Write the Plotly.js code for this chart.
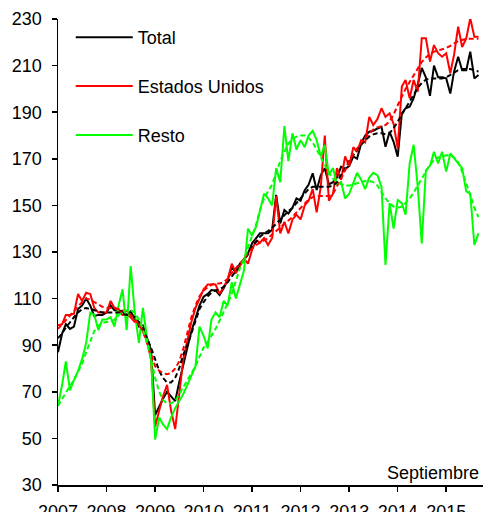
<!DOCTYPE html>
<html>
<head>
<meta charset="utf-8">
<script src="https://cdn.plot.ly/plotly-3.0.1.min.js"></script>
<style>html,body{margin:0;padding:0;background:#fff;}#chart{width:483px;height:512px;}</style>
</head>
<body>
<div id="chart"></div>
<script>
// Monthly index, January 2007 – September 2015
const startYear = 2007;
const seriesNames = ["Total", "Estados Unidos", "Resto"];

const total = [
  87, 95, 99, 97, 98, 105.5, 107, 110, 107, 102.5, 103, 103,
  104, 107, 105, 105, 104.5, 103, 104.5, 101, 98, 98.5, 93, 88,
  60, 64, 67, 70, 68, 66, 74, 82, 89, 96, 102, 107,
  110.8, 112, 113.7, 113.5, 111.5, 114.4, 118, 123.7, 121, 125, 126.6, 129.4,
  133.7, 136, 138, 138, 138, 139.5, 154.5, 142.3, 148, 146.5, 149, 153,
  152, 156.5, 158.8, 163.8, 156.6, 163, 166, 159, 160, 162, 166.6, 165.5,
  167, 171, 170, 176.6, 180, 181.6, 182, 183, 183.7, 175.2, 181.6, 177.3,
  170.9, 189.5, 191.7, 192.4, 196, 202, 209, 205, 197, 210, 205, 205,
  204.5, 198, 207.4, 213.8, 208, 208, 216, 204.5, 206
];
const estadosUnidos = [
  98.6, 99, 103, 103, 103.5, 112, 109, 112.5, 112, 106, 104, 104,
  104, 109, 106, 105, 103, 103, 102, 100, 99, 96, 92, 84,
  55, 62, 68, 73, 62, 54, 70, 84, 92, 100, 106, 110,
  114, 116, 116, 116, 112, 115, 118, 125, 121, 124, 127, 125,
  131, 135, 134, 136, 133, 136, 154, 138, 143, 138, 144, 146,
  144, 150, 152, 157, 147, 158, 180, 152, 155, 166, 161, 171,
  167, 175, 173, 178, 177, 188, 184.5, 187, 191.7, 188, 189.5, 185,
  174.5, 201, 203.8, 196, 203.8, 198.8, 221.7, 221.7, 211.7, 218.8, 215.3, 213.8,
  215.3, 206.7, 214.6, 226.7, 218, 221.7, 230.3, 222.4, 222.4
];
const resto = [
  64, 73, 83, 70.6, 75, 79, 84, 91, 104, 103, 96.5, 101,
  101, 102, 98, 107, 114, 96.5, 124, 104, 91, 106, 93, 85,
  49.5, 59, 56, 54, 59, 63, 66, 69, 73, 77, 81, 98,
  94, 88.6, 101, 104, 102, 109, 107, 117, 110, 116, 122, 140,
  137, 141, 148, 155, 153, 150, 166, 160, 184, 169, 181, 174,
  178, 175, 180, 182, 178, 171, 176, 163, 166, 159, 160, 153,
  155, 160, 164, 161, 157, 162, 164, 163, 158, 124.4, 151, 140,
  152.3, 151, 146, 168, 176, 158, 133.7, 165, 167, 173, 168, 173,
  164.5, 172.3, 170, 168, 166, 156, 155, 133, 138
];
// Trend (dashed) series
const totalTrend = [
  93, 95, 97.5, 100, 102, 104, 105.5, 106, 105.5, 105, 104.5, 104,
  104, 104, 104, 104, 103.5, 103, 103, 102, 100, 97, 93, 89,
  84, 79, 76, 74, 74, 76, 80, 86, 90, 95, 101, 105.5,
  108.5, 111, 112.5, 113.5, 114, 115, 117, 119.5, 122, 124, 126.5, 129,
  132, 134.5, 136.5, 138, 139, 140.5, 142, 144, 146, 147.5, 149, 151,
  153, 155, 157, 158, 158, 158, 158, 158, 158.5, 160, 163, 166,
  169, 171.5, 174, 176, 178, 179.5, 180.5, 181, 181, 180.5, 181, 183,
  186, 189, 192, 195, 198, 200.5, 202.5, 204, 204.5, 204.5, 204.5, 204.5,
  205, 206, 207, 208, 208.5, 208.5, 208.5, 208, 207.5
];
const estadosUnidosTrend = [
  97, 99, 101, 103, 104.5, 106.5, 108.5, 110, 109.5, 108.5, 107.5, 106.5,
  106, 106, 106, 105.5, 105, 104.5, 103, 101, 99, 96, 91, 86,
  81, 79, 78, 77.5, 78, 80, 83, 88.5, 95, 102, 107, 111,
  113.5, 115, 116, 116.5, 116.5, 117, 118.5, 121, 123, 125, 127, 129.5,
  131.5, 133, 134, 135, 136, 137.5, 139, 140.5, 142, 143.5, 145, 147,
  149, 151, 152.5, 153.5, 154, 154, 154, 154, 155, 158, 161.5, 165,
  169, 172, 174.5, 177, 179, 181, 182.5, 183.5, 184, 184.5, 186, 189,
  193, 197, 200, 203, 206, 209, 211.5, 213.5, 215, 216, 216.5, 217,
  217.5, 218.5, 219.5, 220.5, 221, 221.5, 221.5, 221.5, 221.5
];
const restoTrend = [
  64, 67, 70, 72.5, 75, 78.5, 82, 87, 92, 96, 98.5, 99.5,
  100, 100, 101, 103, 104.5, 105, 105, 104, 101, 97, 91, 84,
  76, 70, 66.5, 65, 65, 66, 69, 72, 75, 78, 81, 85,
  89, 91.5, 94, 97, 100.5, 104, 108, 112, 117.5, 123, 127, 132,
  137, 142, 148, 153, 156, 159, 164, 169, 173, 176.5, 178.5, 179.5,
  180, 180, 179, 177, 174, 170.5, 167, 164, 161.5, 160, 159, 158.5,
  158.5, 159, 159.5, 160, 160.5, 160.5, 160, 158.5, 155.5, 153, 151, 149.5,
  149, 149.5, 151, 153, 155.5, 158.5, 162, 165, 167.5, 169.5, 170.5, 171,
  171.5, 171.5, 170.5, 168.5, 164.5, 159.5, 154, 149, 145
];

const colors = ["#000000", "#ff0000", "#00ff00"];

// month dates for the x axis
const months = [];
for (let i = 0; i < total.length; i++) {
  const y = startYear + Math.floor(i / 12);
  const m = (i % 12) + 1;
  months.push(y + "-" + String(m).padStart(2, "0") + "-01");
}

const solid = [total, estadosUnidos, resto];
const trend = [totalTrend, estadosUnidosTrend, restoTrend];

const traces = [];
solid.forEach((vals, k) => {
  traces.push({
    type: "scatter", mode: "lines", x: months, y: vals,
    name: seriesNames[k], legendgroup: "g" + k,
    line: { color: colors[k], width: 2 }
  });
});
trend.forEach((vals, k) => {
  traces.push({
    type: "scatter", mode: "lines", x: months, y: vals,
    name: seriesNames[k] + " (tendencia)", showlegend: false, legendgroup: "g" + k,
    line: { color: colors[k], width: 2, dash: "5px,3px" }
  });
});

const font = { family: "Liberation Sans, Arial, sans-serif", size: 18, color: "#000" };

const layout = {
  width: 483, height: 512,
  margin: { l: 58, r: 0, t: 19, b: 27, pad: 0 },
  paper_bgcolor: "#fff", plot_bgcolor: "#fff",
  font: font,
  showlegend: true,
  legend: {
    x: 0.03, xanchor: "left", y: 1.0, yanchor: "top",
    font: font, tracegroupgap: 22.5, itemwidth: 57,
    traceorder: "grouped", bgcolor: "rgba(0,0,0,0)", borderwidth: 0
  },
  xaxis: {
    type: "date", range: ["2007-01-01", "2015-10-05"],
    showgrid: false, zeroline: false, showline: true,
    linecolor: "#000", linewidth: 1.5,
    ticks: "outside", ticklen: 5, tickwidth: 1.5, tickcolor: "#000",
    tick0: "2007-01-01", dtick: "M12", tickformat: "%Y",
    tickfont: font, ticklabelstandoff: 5, fixedrange: true
  },
  yaxis: {
    range: [30, 230], tick0: 30, dtick: 20,
    showgrid: false, zeroline: false, showline: true,
    linecolor: "#000", linewidth: 1.5,
    ticks: "outside", ticklen: 5, tickwidth: 1.5, tickcolor: "#000",
    tickfont: font, ticklabelstandoff: 6, fixedrange: true
  },
  annotations: [{
    text: "Septiembre", xref: "paper", x: 1, xanchor: "right", xshift: -2,
    yref: "y", y: 30, yanchor: "bottom", showarrow: false, font: font
  }]
};

Plotly.newPlot("chart", traces, layout, { displayModeBar: false, staticPlot: true });
</script>
</body>
</html>
